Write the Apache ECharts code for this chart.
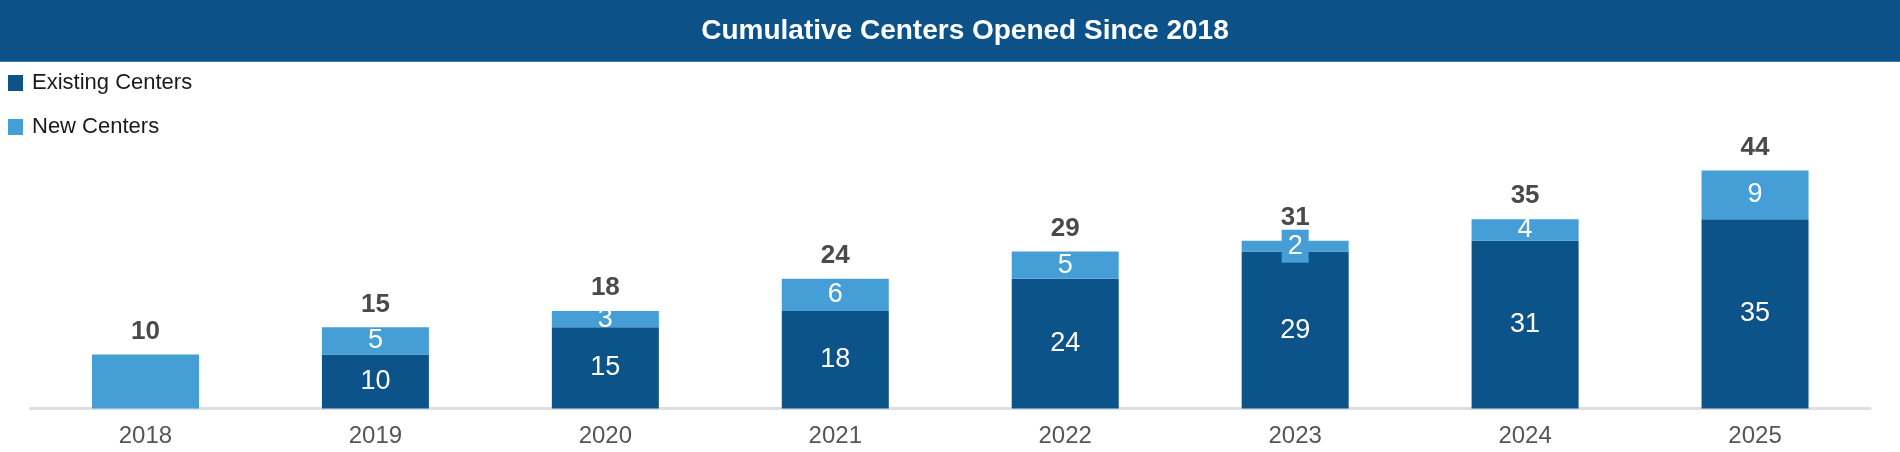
<!DOCTYPE html>
<html>
<head>
<meta charset="utf-8">
<title>Cumulative Centers Opened Since 2018</title>
<script src="https://cdn.jsdelivr.net/npm/echarts@6/dist/echarts.min.js"></script>
<style>
    html, body { margin: 0; padding: 0; background: #ffffff; }
    #chart { width: 1900px; height: 452px; }
</style>
</head>
<body>
<div id="chart"></div>
<script>
// chart values
const years = ['2018', '2019', '2020', '2021', '2022', '2023', '2024', '2025'];
const existingCenters = [0, 10, 15, 18, 24, 29, 31, 35];
const newCenters = [10, 5, 3, 6, 5, 2, 4, 9];
const totals = [10, 15, 18, 24, 29, 31, 35, 44];

const darkBlue = '#0c5389';
const lightBlue = '#459fd6';
const font = '"Liberation Sans", Arial, sans-serif';

function hideZero(p) {
    return p.value ? p.value : '';
}

// very short segments get a label box so the number stays readable
const newData = newCenters.map(function (v) {
    if (v < 3) {
        return {
            value: v,
            label: { backgroundColor: lightBlue, padding: [3, 6, 3, 6] }
        };
    }
    return v;
});

window.onload = function () {
    const chart = echarts.init(document.getElementById('chart'));

    const option = {
        animation: false,
        textStyle: { fontFamily: font },
        graphic: [
            {
                type: 'rect',
                shape: { x: 0, y: 0, width: 1900, height: 62 },
                style: { fill: '#0c5289' },
                silent: true
            },
            {
                type: 'rect',
                shape: { x: 0, y: 61, width: 1900, height: 1 },
                style: { fill: '#3f7bab' },
                silent: true
            },
            {
                type: 'text',
                x: 965,
                y: 31,
                style: {
                    text: 'Cumulative Centers Opened Since 2018',
                    fill: '#ffffff',
                    font: 'bold 28px ' + font,
                    textAlign: 'center',
                    textVerticalAlign: 'middle'
                },
                silent: true
            }
        ],
        legend: {
            orient: 'vertical',
            left: 8,
            top: 72,
            padding: 0,
            itemWidth: 15,
            itemHeight: 16,
            itemGap: 22,
            icon: 'rect',
            data: ['Existing Centers', 'New Centers'],
            textStyle: {
                fontSize: 22,
                color: '#1a1a1a',
                padding: [0, 0, 0, 4]
            }
        },
        grid: {
            left: 30.5,
            right: 30,
            top: 138,
            bottom: 43.5
        },
        xAxis: {
            type: 'category',
            data: years,
            axisLine: { show: true, lineStyle: { color: '#dcdfe0', width: 3 } },
            axisTick: { show: false },
            axisLabel: { fontSize: 24, color: '#555555', margin: 16 }
        },
        yAxis: {
            type: 'value',
            min: 0,
            max: 50,
            show: false,
            splitLine: { show: false }
        },
        series: [
            {
                name: 'Existing Centers',
                type: 'bar',
                stack: 'centers',
                barWidth: 107,
                color: darkBlue,
                data: existingCenters,
                label: {
                    show: true,
                    position: 'inside',
                    color: '#ffffff',
                    fontSize: 27,
                    formatter: hideZero
                }
            },
            {
                name: 'New Centers',
                type: 'bar',
                stack: 'centers',
                barWidth: 107,
                color: lightBlue,
                data: newData,
                label: {
                    show: true,
                    position: 'inside',
                    color: '#ffffff',
                    fontSize: 27,
                    formatter: function (p) {
                        // the 2018 bar carries no number of its own
                        return p.dataIndex === 0 ? '' : p.value;
                    }
                }
            },
            {
                name: 'Total',
                type: 'scatter',
                symbolSize: 0,
                data: totals,
                silent: true,
                itemStyle: { opacity: 1 },
                label: {
                    show: true,
                    position: 'top',
                    distance: 10,
                    color: '#4a4a4a',
                    opacity: 1,
                    fontSize: 26,
                    fontWeight: 'bold'
                }
            }
        ]
    };

    chart.setOption(option);

    window.addEventListener('resize', function () {
        chart.resize();
    });
};
</script>
</body>
</html>
